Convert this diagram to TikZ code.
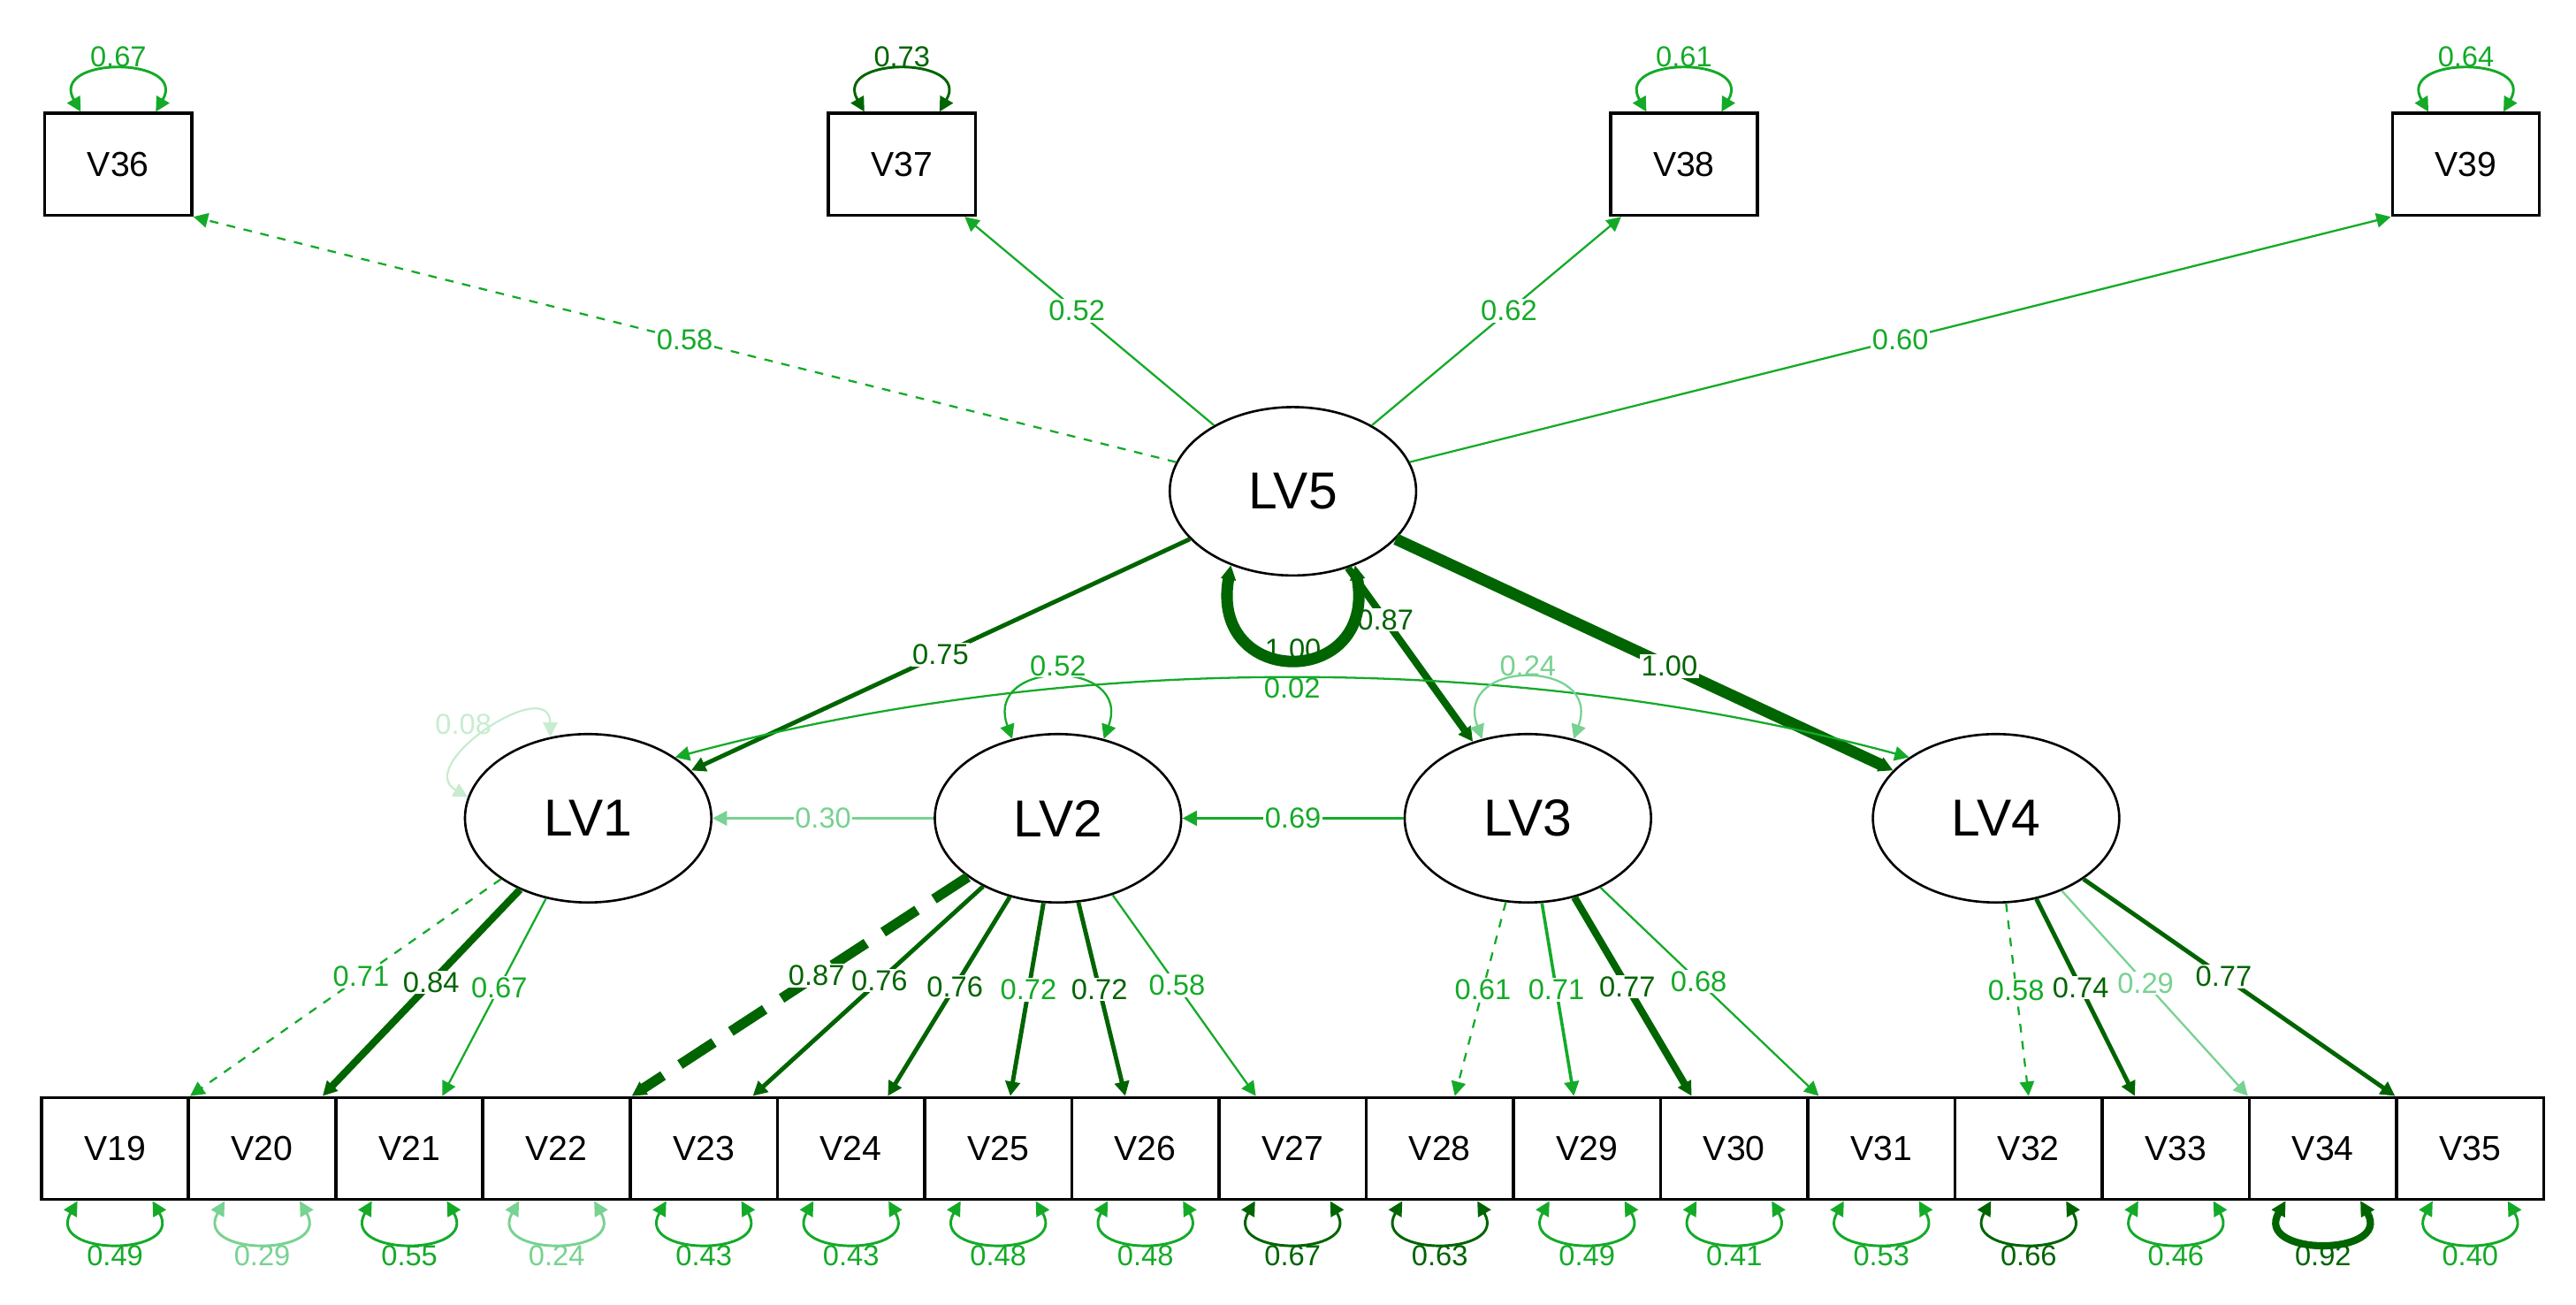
\documentclass[tikz,border=0pt]{standalone}
\usepackage{fontspec}
\setmainfont{Liberation Sans}
\usetikzlibrary{arrows.meta,shapes.geometric}
\definecolor{gdark}{RGB}{0,100,0}
\definecolor{gmid}{RGB}{20,170,40}
\definecolor{glight}{RGB}{120,210,145}
\definecolor{gpale}{RGB}{200,236,208}
\tikzset{
  obs/.style={draw, line width=1.1pt, minimum width=1.79cm, minimum height=1.24cm, font=\fontsize{12}{12}\selectfont},
  lat/.style={draw, line width=0.8pt, ellipse, minimum width=3cm, minimum height=2.05cm, font=\fontsize{18}{18}\selectfont},
  ar/.style={-{Triangle[length=5pt,width=5pt]}},
  lab/.style={fill=white, inner sep=0.5pt, font=\fontsize{10}{10}\selectfont},
  res/.style={{Triangle[length=5pt,width=5pt]}-{Triangle[length=5pt,width=5pt]}, looseness=2.2},
  lmid/.style={gmid, line width=0.7pt},
  lmidd/.style={gmid, line width=0.7pt, dashed},
  lmidt/.style={gmid, line width=1.1pt},
  llt/.style={glight, line width=0.7pt},
  lpale/.style={gpale, line width=0.7pt},
  ldk/.style={gdark, line width=1.5pt},
  ldkk/.style={gdark, line width=2.5pt},
  ldkkk/.style={gdark, line width=4pt},
  ldkd/.style={gdark, line width=3.5pt, dash pattern=on 14pt off 7pt},
}
\begin{document}
\begin{tikzpicture}[x=0.02cm, y=0.02cm]
\useasboundingbox (0,0) rectangle (1568,794);
% latent variables
\node[lat] (LV5) at (787,495) {LV5};
\node[lat] (LV1) at (358,296) {LV1};
\node[lat] (LV2) at (644,296) {LV2};
\node[lat] (LV3) at (930,296) {LV3};
\node[lat] (LV4) at (1215,296) {LV4};

% top indicators
\foreach \n/\x/\v/\c/\st in {36/72/0.67/gmid/lmid,37/549/0.73/gdark/ldk,38/1025/0.61/gmid/lmid,39/1501/0.64/gmid/lmidt}{
  \node[obs] (V\n) at (\x,694) {V\n};
  \draw[res,\st,line width=0.9pt] ([xshift=-13pt]V\n.north) to[out=120,in=60] node[lab,above,fill=none,text=\c] {\v} ([xshift=13pt]V\n.north);
}
\draw[ar,lmidd] (LV5) -- node[lab,text=gmid] {0.58} (V36.south east);
\draw[ar,lmid] (LV5) -- node[lab,text=gmid,pos=0.55] {0.52} (V37);
\draw[ar,lmid] (LV5) -- node[lab,text=gmid,pos=0.55] {0.62} (V38);
\draw[ar,lmid] (LV5) -- node[lab,text=gmid] {0.60} (V39.south west);

% bottom indicators
\foreach \n/\v/\c/\st [count=\i from 0] in {19/0.49/gmid/lmid,20/0.29/glight/llt,21/0.55/gmid/lmid,22/0.24/glight/llt,23/0.43/gmid/lmid,24/0.43/gmid/lmid,25/0.48/gmid/lmid,26/0.48/gmid/lmid,27/0.67/gdark/lmid,28/0.63/gdark/lmid,29/0.49/gmid/lmid,30/0.41/gmid/lmid,31/0.53/gmid/lmid,32/0.66/gdark/lmid,33/0.46/gmid/lmid,34/0.92/gdark/ldkk,35/0.40/gmid/lmid}{
  \node[obs] (V\n) at (70+89.6*\i,95) {V\n};
  \draw[res,\st,draw=\c,line width=0.9pt] ([xshift=-13pt]V\n.south) to[out=-120,in=-60] node[lab,below,fill=none,text=\c] {\v} ([xshift=13pt]V\n.south);
}
\draw[res,ldkk] ([xshift=-13pt]V34.south) to[out=-120,in=-60] ([xshift=13pt]V34.south);

% loadings
\foreach \lv/\n/\an/\v/\c/\st in {LV1/19/north east/0.71/gmid/lmidd,LV1/20/41/0.84/gdark/ldkk,LV1/21/58/0.67/gmid/lmid,
  LV2/22/north east/0.87/gdark/ldkd,LV2/23/47/0.76/gdark/ldk,LV2/24/55/0.76/gdark/ldk,LV2/25/77/0.72/gmid/ldk,LV2/26/111/0.72/gdark/ldk,LV2/27/125/0.58/gmid/lmid,
  LV3/28/74/0.61/gmid/lmidd,LV3/29/104/0.71/gmid/lmidt,LV3/30/129/0.77/gdark/ldkk,LV3/31/140/0.68/gmid/lmid,
  LV4/32/north/0.58/gmid/lmidd,LV4/33/128/0.74/gdark/ldk,LV4/34/north west/0.29/glight/llt,LV4/35/north west/0.77/gdark/ldk}{
  \draw[ar,\st] (\lv) -- node[lab,pos=0.45,text=\c] {\v} (V\n.\an);
}

% structural paths
\draw[ar,ldk] (LV5) -- node[lab,text=gdark] {0.75} (LV1);
\draw[ar,ldkk] (LV5) -- node[lab,text=gdark,pos=0.3] {0.87} (LV3);
\draw[ar,ldkkk] (LV5) -- node[lab,text=gdark,pos=0.55] {1.00} (LV4);
\draw[ar,llt] (LV2) -- node[lab,text=glight] {0.30} (LV1);
\draw[ar,lmidt] (LV3) -- node[lab,text=gmid] {0.69} (LV2);

% covariance and variances
\draw[res,lmid] (LV1.35) to[out=15,in=165,looseness=0.85] node[lab,fill=none,text=gmid,pos=0.5,below=-1pt] {0.02} (LV4.145);
\draw[res,gdark,line width=4pt] (LV5.-130) to[out=-100,in=-80,looseness=2.6] node[lab,fill=none,text=gdark,above=-3pt] {1.00} (LV5.-50);
\draw[res,lpale] (LV1.170) to[out=150,in=90,looseness=1.6] node[lab,fill=none,text=gpale,above left=-2pt] {0.08} (LV1.115);
\draw[res,lmid] (LV2.120) to[out=110,in=70,looseness=2.4] node[lab,above,fill=white,text=gmid] {0.52} (LV2.60);
\draw[res,llt] (LV3.120) to[out=110,in=70,looseness=2.4] node[lab,above,fill=none,text=glight] {0.24} (LV3.60);
\end{tikzpicture}
\end{document}
